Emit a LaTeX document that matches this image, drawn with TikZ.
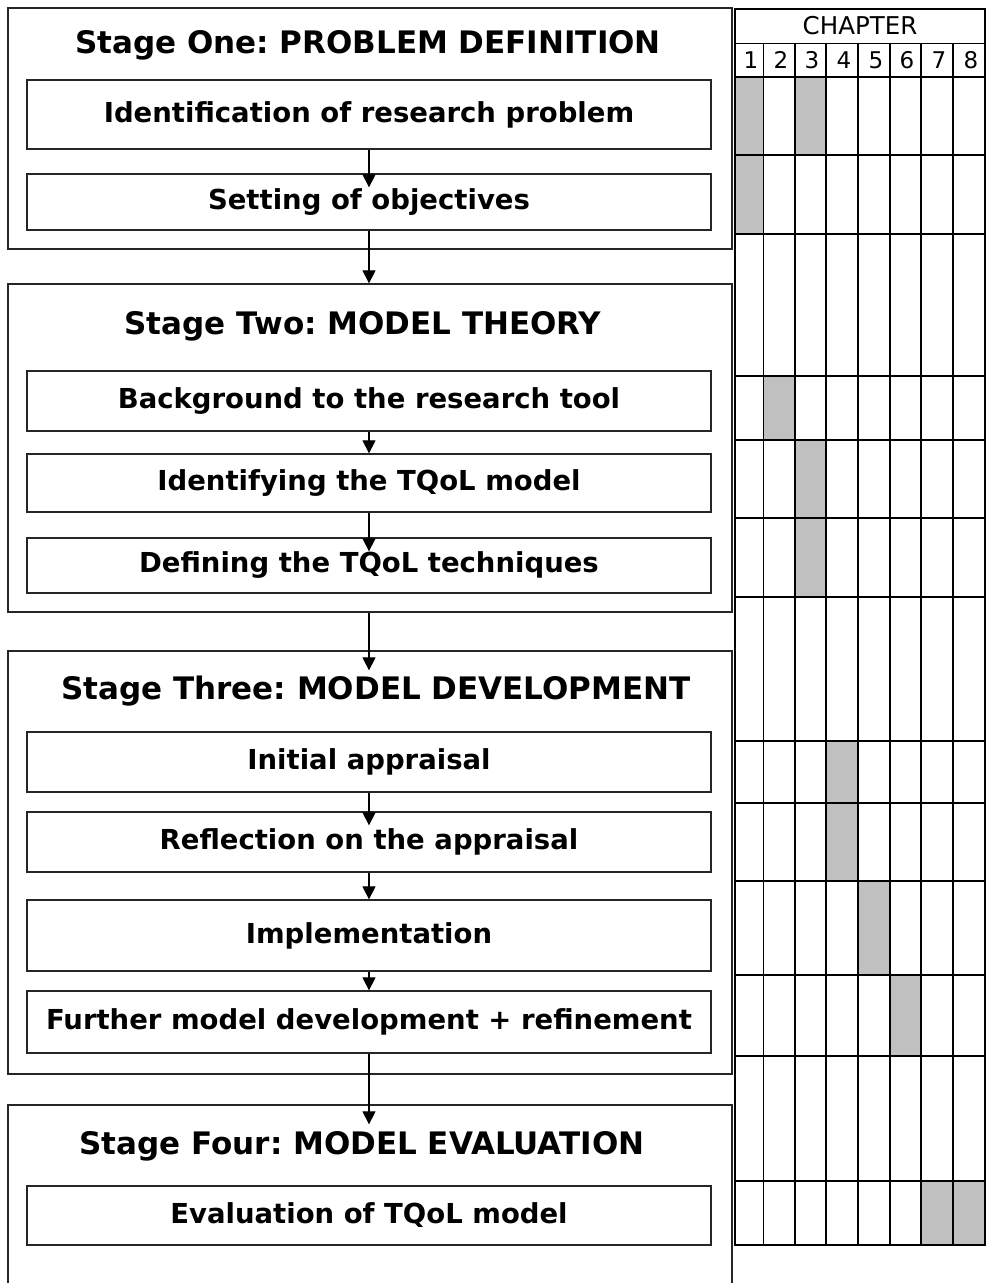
\documentclass[tikz,border=0pt]{standalone}
\usepackage{fontspec}
\setmainfont{DejaVu Sans}
\usetikzlibrary{arrows.meta}
\definecolor{cellgray}{HTML}{C0C0C0}
\frenchspacing
\tikzset{
  stagebox/.style={draw=black!85, line width=1.3pt, fill=white, inner sep=0pt},
  innerbox/.style={draw=black!85, line width=1.3pt, fill=white, minimum width=684pt, inner sep=0pt,
                   font=\bfseries\fontsize{27.5}{32}\selectfont},
  titletext/.style={font=\bfseries\fontsize{31}{36}\selectfont, inner sep=0pt},
  flow/.style={line width=1.2pt, -{Triangle[length=13pt,width=13pt]}},
  tline/.style={line width=1.6pt},
  thinline/.style={line width=1pt},
  headtext/.style={font=\fontsize{24.5}{28}\selectfont, inner sep=0pt},
  numtext/.style={font=\fontsize{23}{26}\selectfont, inner sep=0pt},
}
\begin{document}
\begin{tikzpicture}[x=1pt,y=-1pt]
\useasboundingbox (0,0) rectangle (988,1283);
\clip (0,0) rectangle (988,1283);
\fill[white] (0,0) rectangle (988,1283);

% ---------- stage boxes ----------
\node[stagebox, minimum width=724pt, minimum height=241pt] (s1) at (370,128.5) {};
\node[stagebox, minimum width=724pt, minimum height=328pt] (s2) at (370,448) {};
\node[stagebox, minimum width=724pt, minimum height=423pt] (s3) at (370,862.5) {};
\node[stagebox, minimum width=724pt, minimum height=195pt] (s4) at (370,1202.5) {};

% ---------- titles ----------
\node[titletext] (t1) at (368,45) {Stage One: PROBLEM DEFINITION};
\node[titletext] (t2) at (363,326) {Stage Two: MODEL THEORY};
\node[titletext] (t3) at (376,691) {Stage Three: MODEL DEVELOPMENT};
\node[titletext] (t4) at (362,1146) {Stage Four: MODEL EVALUATION};

% ---------- inner boxes ----------
\node[innerbox, minimum height=69pt] (b11) at (369,114.5) {Identification of research problem};
\node[innerbox, minimum height=56pt] (b12) at (369,202) {Setting of objectives};
\node[innerbox, minimum height=60pt] (b21) at (369,401) {Background to the research tool};
\node[innerbox, minimum height=58pt] (b22) at (369,483) {Identifying the TQoL model};
\node[innerbox, minimum height=55pt] (b23) at (369,565.5) {Defining the TQoL techniques};
\node[innerbox, minimum height=60pt] (b31) at (369,762) {Initial appraisal};
\node[innerbox, minimum height=60pt] (b32) at (369,842) {Reflection on the appraisal};
\node[innerbox, minimum height=71pt] (b33) at (369,935.5) {Implementation};
\node[innerbox, minimum height=62pt] (b34) at (369,1022) {Further model development + refinement};
\node[innerbox, minimum height=59pt] (b41) at (369,1215.5) {Evaluation of TQoL model};

% ---------- connectors ----------
\draw[flow] (b11.south) -- ([yshift=-14pt]b12.north);
\draw[flow] (b12.south) -- (b12.south |- s2.north);
\draw[flow] (b21.south) -- (b22.north);
\draw[flow] (b22.south) -- ([yshift=-14pt]b23.north);
\draw[flow] (b23.south |- s2.south) -- ([yshift=-20pt]b23.south |- s3.north);
\draw[flow] (b31.south) -- ([yshift=-14pt]b32.north);
\draw[flow] (b32.south) -- (b33.north);
\draw[flow] (b33.south) -- (b34.north);
\draw[flow] (b34.south) -- ([yshift=-20pt]b34.south |- s4.north);

% ---------- chapter table ----------
% shaded cells
\fill[cellgray] (735,77) rectangle (763,155);
\fill[cellgray] (795,77) rectangle (826,155);
\fill[cellgray] (735,155) rectangle (763,234);
\fill[cellgray] (763,376) rectangle (795,440);
\fill[cellgray] (795,440) rectangle (826,518);
\fill[cellgray] (795,518) rectangle (826,597);
\fill[cellgray] (826,741) rectangle (858,803);
\fill[cellgray] (826,803) rectangle (858,881);
\fill[cellgray] (858,881) rectangle (890,975);
\fill[cellgray] (890,975) rectangle (921,1056);
\fill[cellgray] (921,1181) rectangle (953,1245);
\fill[cellgray] (953,1181) rectangle (985,1245);
% grid
\draw[thinline] (735,43) -- (985,43);
\foreach \y in {77,155,234,376,440,518,597,741,803,881,975,1056,1181}
  \draw[tline] (735,\y) -- (985,\y);
\draw[thinline] (763,43) -- (763,1245);
\foreach \x in {795,826,858,890,921,953}
  \draw[tline] (\x,43) -- (\x,1245);
\draw[tline] (735,9) rectangle (985,1245);
% header texts
\node[headtext] (chap) at (860,26) {CHAPTER};
\foreach \n/\x in {1/751,2/781,3/812,4/844,5/876,6/907,7/939,8/971}
  \node[numtext] (num\n) at (\x,60) {\n};
\end{tikzpicture}
\end{document}
